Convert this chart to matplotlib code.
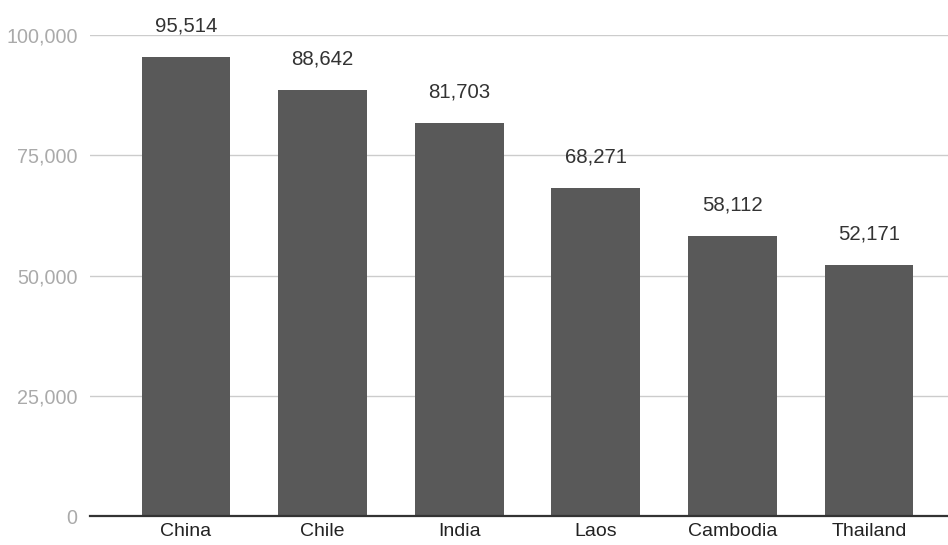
import matplotlib.pyplot as plt
import numpy as np
from matplotlib.ticker import FuncFormatter, MultipleLocator

COUNTRIES = ["China", "Chile", "India", "Laos", "Cambodia", "Thailand"]
VALUES = [95514, 88642, 81703, 68271, 58112, 52171]

BAR_COLOR = "#595959"
GRID_COLOR = "#cccccc"
TICK_COLOR = "#aaaaaa"

plt.rcParams["font.family"] = ["Liberation Sans", "DejaVu Sans"]

fig = plt.figure(figsize=(9.48, 5.45), dpi=100)
ax = fig.add_axes([90 / 948, 1 - 516 / 545, 858 / 948, (516 - 35) / 545])

x = np.arange(len(COUNTRIES))
ax.bar(x, VALUES, width=0.65, color=BAR_COLOR, zorder=3)

for xi, v in zip(x, VALUES):
    ax.annotate(f"{v:,}", (xi, v), xytext=(0, 31), textcoords="offset pixels",
                ha="center", va="center", fontsize=14.7, color="#333333")

ax.set_xlim(-0.703, 5.578)
ax.set_ylim(0, 100000)
ax.yaxis.set_major_locator(MultipleLocator(25000))
ax.yaxis.set_major_formatter(FuncFormatter(lambda v, _: f"{int(v):,}"))
ax.grid(axis="y", color=GRID_COLOR, linewidth=1, zorder=0)
ax.set_xticks(x)
ax.set_xticklabels(COUNTRIES)

for s in ["top", "right", "left"]:
    ax.spines[s].set_visible(False)
ax.spines["bottom"].set_color("#333333")
ax.spines["bottom"].set_linewidth(1.6)
ax.spines["bottom"].set_zorder(4)

ax.tick_params(axis="y", length=0, pad=9, labelsize=14.2, labelcolor=TICK_COLOR)
ax.tick_params(axis="x", length=0, pad=5, labelsize=14, labelcolor="#222222")

fig.savefig("out.png", dpi=100)
